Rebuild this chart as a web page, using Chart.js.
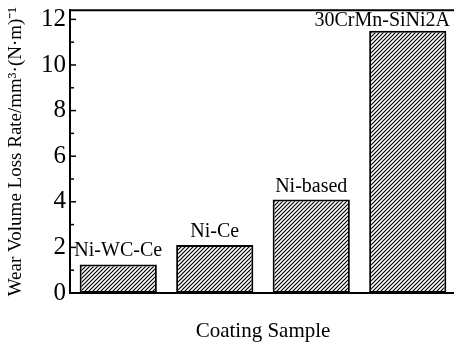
<!DOCTYPE html>
<html>
<head>
<meta charset="utf-8">
<script src="https://cdn.jsdelivr.net/npm/chart.js@4/dist/chart.umd.min.js"></script>
<style>
html,body{margin:0;padding:0;background:#fff;overflow:hidden;width:454px;height:354px;}
#c{display:block;}
</style>
</head>
<body>
<canvas id="c" width="460" height="354" style="width:460px;height:354px"></canvas>
<script>
const categories = ["Ni-WC-Ce", "Ni-Ce", "Ni-based", "30CrMn-SiNi2A"];
const wearRate = [1.25, 2.1, 4.1, 11.5];
const yTicks = [0, 2, 4, 6, 8, 10, 12];
const yMinorTicks = [1, 3, 5, 7, 9, 11];
const yTitle = "Wear Volume Loss Rate/mm\u00B3\u00B7(N\u00B7m)\u207B\u00B9";
const xTitle = "Coating Sample";

const SERIF = "'Liberation Serif', 'Times New Roman', serif";

function hatch() {
  const s = 4;
  const pc = document.createElement('canvas');
  pc.width = s; pc.height = s;
  const g = pc.getContext('2d');
  g.fillStyle = '#fff';
  g.fillRect(0, 0, s, s);
  g.strokeStyle = '#000';
  g.lineWidth = 1.2;
  g.beginPath();
  g.moveTo(-1, s + 1); g.lineTo(s + 1, -1);
  g.moveTo(-1, 1); g.lineTo(1, -1);
  g.moveTo(s - 1, s + 1); g.lineTo(s + 1, s - 1);
  g.stroke();
  return g.createPattern(pc, 'repeat');
}

const decor = {
  id: 'decor',
  afterDatasetsDraw(chart) {
    const ctx = chart.ctx;
    const ca = chart.chartArea;
    const y = chart.scales.y;
    ctx.save();
    ctx.strokeStyle = '#000';
    ctx.lineWidth = 2;
    ctx.beginPath();
    ctx.moveTo(ca.left - 1, ca.top);
    ctx.lineTo(chart.width, ca.top);
    ctx.stroke();
    ctx.lineWidth = 1.5;
    yTicks.forEach(v => {
      const p = y.getPixelForValue(v);
      ctx.beginPath(); ctx.moveTo(ca.left, p); ctx.lineTo(ca.left + 6, p); ctx.stroke();
    });
    yMinorTicks.forEach(v => {
      const p = y.getPixelForValue(v);
      ctx.beginPath(); ctx.moveTo(ca.left, p); ctx.lineTo(ca.left + 4, p); ctx.stroke();
    });
    ctx.fillStyle = '#000';
    ctx.font = "20px " + SERIF;
    ctx.textBaseline = 'alphabetic';
    const meta = chart.getDatasetMeta(0);
    meta.data.forEach((bar, i) => {
      const t = categories[i];
      const w = ctx.measureText(t).width;
      let x = bar.x - w / 2;
      if (x + w > 450) x = 450 - w;
      const gap = Math.min(8, bar.y - ca.top - 16);
      ctx.textAlign = 'left';
      ctx.fillText(t, x, bar.y - gap);
    });
    ctx.restore();
  }
};

new Chart(document.getElementById('c'), {
  type: 'bar',
  data: {
    labels: categories,
    datasets: [{
      data: wearRate,
      backgroundColor: hatch(),
      borderColor: '#000',
      borderWidth: 2,
      borderSkipped: false,
      barPercentage: 0.8,
      categoryPercentage: 1.0
    }]
  },
  options: {
    responsive: false,
    animation: false,
    devicePixelRatio: 1,
    layout: { padding: { left: 0, right: 4, top: 10, bottom: 0 } },
    plugins: { legend: { display: false }, tooltip: { enabled: false } },
    scales: {
      x: {
        grid: { display: false, drawTicks: false },
        border: { display: true, color: '#000', width: 2 },
        ticks: { display: false },
        title: { display: true, text: xTitle, color: '#000', font: { family: SERIF, size: 21 }, padding: { top: 0, bottom: 10 } },
        afterFit(scale) { scale.height = 61; }
      },
      y: {
        min: 0, max: 12.4,
        grid: { display: false, drawTicks: false },
        border: { display: true, color: '#000', width: 2 },
        ticks: { stepSize: 2, includeBounds: false, color: '#000', padding: 4, font: { family: SERIF, size: 25, lineHeight: 0.5 } },
        title: { display: true, text: yTitle, color: '#000', font: { family: SERIF, size: 19 }, padding: { top: 5, bottom: 0 } },
        afterFit(scale) { scale.width = 70; }
      }
    }
  },
  plugins: [decor]
});
</script>
</body>
</html>
